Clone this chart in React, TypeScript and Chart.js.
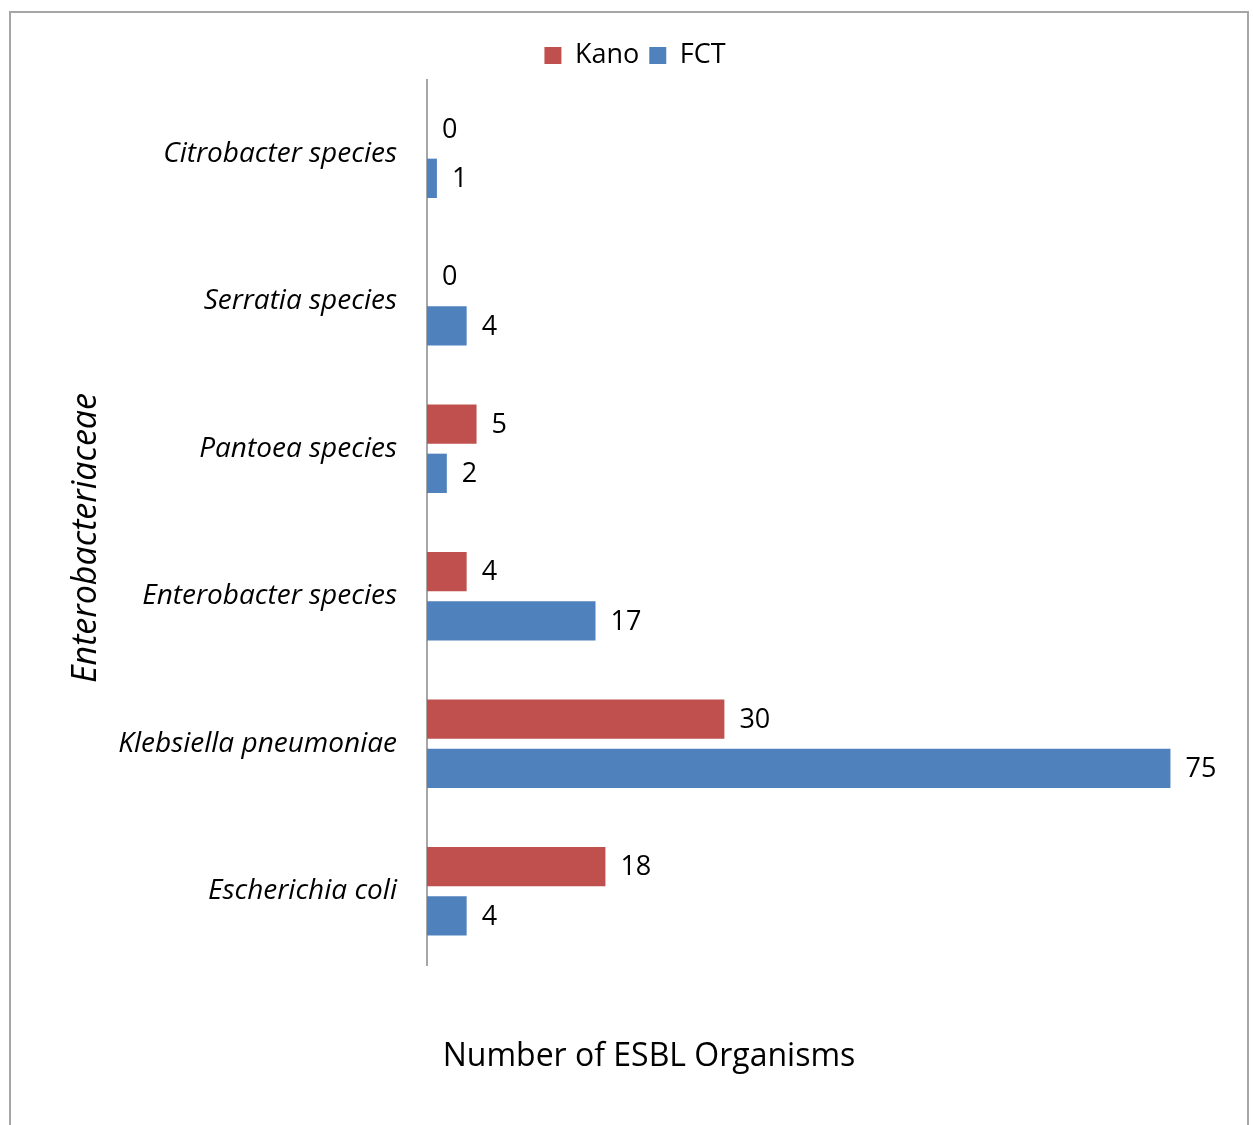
import React, { useEffect, useRef } from "react";
import { Chart, registerables } from "chart.js";

Chart.register(...registerables);

const categories = [
  "Citrobacter species",
  "Serratia species",
  "Pantoea species",
  "Enterobacter species",
  "Klebsiella pneumoniae",
  "Escherichia coli",
];
const kanoValues = [0, 0, 5, 4, 30, 18];
const fctValues = [1, 4, 2, 17, 75, 4];
const seriesNames = ["Kano", "FCT"];
const xAxisTitle = "Number of ESBL Organisms";
const yAxisTitle = "Enterobacteriaceae";
const xMin = 0;
const xMax = 80;

const FONT = "'Open Sans', sans-serif";
const KANO_COLOR = "#C0504D";
const FCT_COLOR = "#4F81BD";

export default function App() {
  const ref = useRef<HTMLCanvasElement>(null);

  useEffect(() => {
    if (!ref.current) return;

    const valueLabels = {
      id: "valueLabels",
      afterDatasetsDraw(chart: any) {
        const ctx = chart.ctx;
        ctx.save();
        ctx.font = `27px ${FONT}`;
        ctx.fillStyle = "#000";
        ctx.textBaseline = "middle";
        ctx.textAlign = "left";
        chart.data.datasets.forEach((ds: any, i: number) => {
          const meta = chart.getDatasetMeta(i);
          meta.data.forEach((bar: any, j: number) => {
            ctx.fillText(String(ds.data[j]), bar.x + 15, bar.y + 1);
          });
        });
        ctx.restore();
      },
    };

    const axisTitles = {
      id: "axisTitles",
      afterDraw(chart: any) {
        const ctx = chart.ctx;
        ctx.save();
        ctx.fillStyle = "#000";
        ctx.textBaseline = "middle";
        ctx.textAlign = "center";
        ctx.font = `32px ${FONT}`;
        ctx.fillText(xAxisTitle, 649, 1057);
        ctx.translate(86, 538);
        ctx.rotate(-Math.PI / 2);
        ctx.font = `italic 34px ${FONT}`;
        ctx.fillText(yAxisTitle, 0, 0);
        ctx.restore();
      },
    };

    const chart = new Chart(ref.current, {
      type: "bar",
      data: {
        labels: categories,
        datasets: [
          {
            label: seriesNames[0],
            data: kanoValues,
            backgroundColor: KANO_COLOR,
            barPercentage: 0.8,
            categoryPercentage: 0.667,
          },
          {
            label: seriesNames[1],
            data: fctValues,
            backgroundColor: FCT_COLOR,
            barPercentage: 0.8,
            categoryPercentage: 0.667,
          },
        ],
      },
      options: {
        indexAxis: "y",
        responsive: false,
        animation: false,
        devicePixelRatio: 1,
        layout: { padding: { left: 50, right: 33, top: 32, bottom: 160 } },
        plugins: {
          legend: {
            position: "top",
            labels: {
              boxWidth: 17,
              boxHeight: 17,
              padding: 10,
              color: "#000",
              font: { family: FONT, size: 27 },
            },
          },
          tooltip: { enabled: false },
          title: { display: false },
        },
        scales: {
          x: {
            type: "linear",
            min: xMin,
            max: xMax,
            display: false,
          },
          xTop: {
            type: "linear",
            axis: "x",
            position: "top",
            display: true,
            grid: { display: false },
            border: { display: false },
            ticks: { display: false },
            afterFit: (s: any) => {
              s.height = 1;
            },
          },
          y: {
            type: "category",
            grid: { display: false },
            border: { display: true, color: "#A6A6A6", width: 2 },
            ticks: {
              color: "#000",
              padding: 22,
              font: { family: FONT, size: 28, style: "italic" },
            },
            afterFit: (s: any) => {
              s.width = 377;
            },
          },
        },
      } as any,
      plugins: [valueLabels, axisTitles],
    });

    return () => chart.destroy();
  }, []);

  return (
    <div
      style={{
        position: "absolute",
        left: 0,
        top: 0,
        width: 1253,
        height: 1125,
        background: "#fff",
        overflow: "hidden",
      }}
    >
      <div
        style={{
          position: "absolute",
          left: 9,
          top: 11,
          width: 1240,
          height: 1114,
          boxSizing: "border-box",
          borderLeft: "2px solid #A6A6A6",
          borderTop: "2px solid #A6A6A6",
          borderRight: "2px solid #A6A6A6",
        }}
      />
      <canvas
        ref={ref}
        width={1253}
        height={1125}
        style={{ position: "absolute", left: 0, top: 0 }}
      />
    </div>
  );
}
